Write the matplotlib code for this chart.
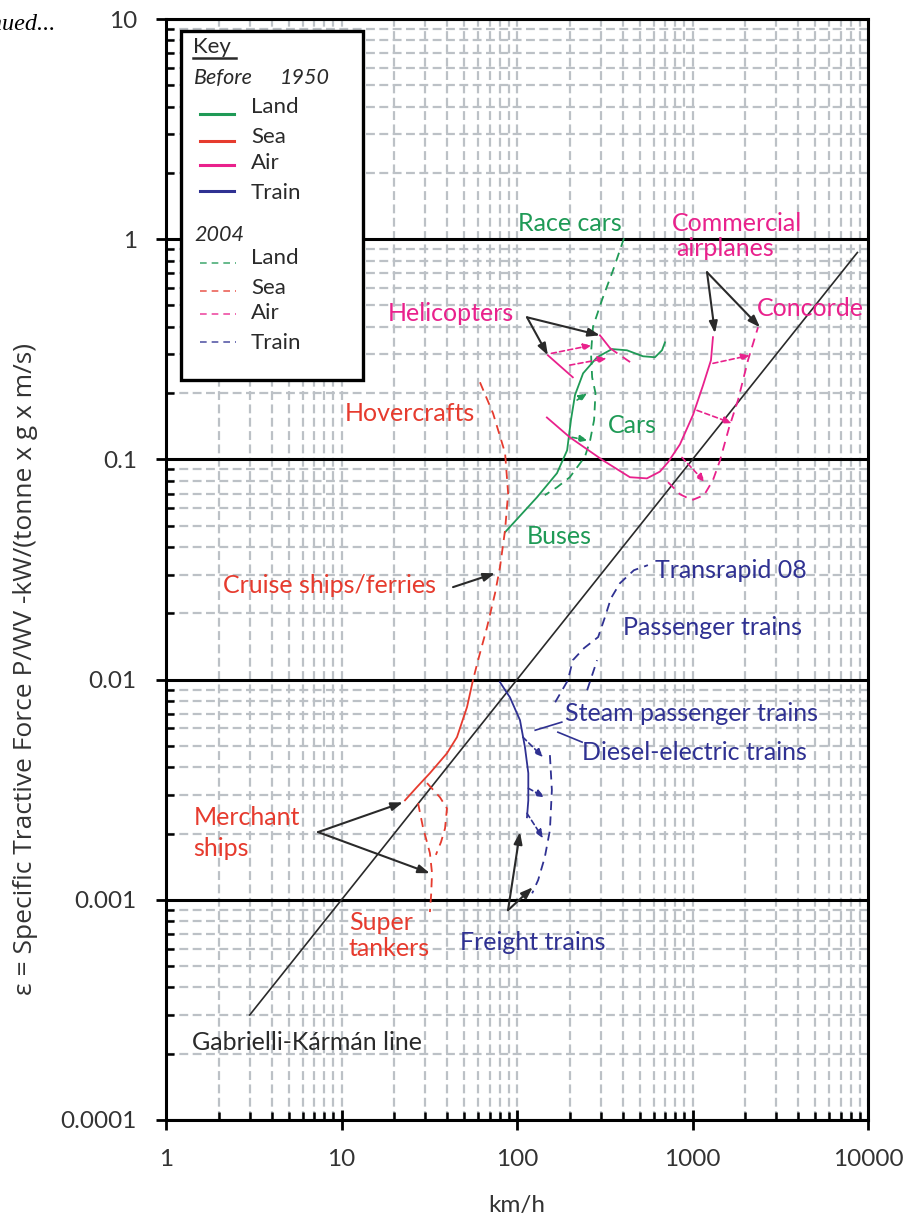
import matplotlib
matplotlib.use('Agg')
import matplotlib.pyplot as plt
from matplotlib.patches import Rectangle
from matplotlib.lines import Line2D
from matplotlib.ticker import FuncFormatter, LogLocator

plt.rcParams['font.family'] = ['Lato', 'DejaVu Sans']

GREEN = '#1f9a56'
RED = '#e63b2e'
MAGENTA = '#e9218c'
NAVY = '#2f3192'
GRID = '#bcc1c6'
INK = '#2a2a2a'

# Gabrielli-Karman line (eps = 1e-4 * V)
gk_speed = [3, 8700]
gk_eps = [0.0003, 0.87]

# land
land_1950_speed = [85.5, 130, 169, 193, 203, 214, 238, 286, 348, 423, 522, 611, 670, 697]
land_1950_eps = [0.0467, 0.0673, 0.0866, 0.110, 0.151, 0.196, 0.246, 0.291, 0.317, 0.313, 0.294, 0.291, 0.313, 0.340]
land_2004_speed = [407, 352, 305, 271, 264, 268, 280, 275, 261, 244, 200, 169, 144]
land_2004_eps = [1.01, 0.72, 0.53, 0.40, 0.303, 0.236, 0.20, 0.151, 0.122, 0.103, 0.083, 0.0747, 0.0688]

# sea
sea_1950_speed = [56.1, 51.9, 45.5, 39.9, 31.9, 26.9, 23.0]
sea_1950_eps = [0.00993, 0.0075, 0.00548, 0.00463, 0.00376, 0.00325, 0.00283]
cruise_2004_speed = [61.5, 73, 85.5, 89, 85.5, 80, 75, 67.5, 60, 56.1]
cruise_2004_eps = [0.224, 0.162, 0.107, 0.0703, 0.0477, 0.0324, 0.0247, 0.0173, 0.01225, 0.00993]
merchant_2004_speed = [30.7, 36.4, 39.9, 38.9, 36.9, 34.5]
merchant_2004_eps = [0.00339, 0.00292, 0.0026, 0.00211, 0.00183, 0.0016]
tanker_2004_speed = [27.3, 29.1, 31.9, 32.8, 32.4, 31.9]
tanker_2004_eps = [0.00275, 0.00214, 0.00163, 0.00132, 0.00105, 0.00088]

# air
heli_1950_a_speed = [150, 208]
heli_1950_a_eps = [0.297, 0.236]
heli_1950_b_speed = [297, 339]
heli_1950_b_eps = [0.366, 0.32]
heli_2004_speed = [339, 371, 452]
heli_2004_eps = [0.32, 0.304, 0.273]
air_1950_speed = [148, 200, 309, 440, 550, 652, 725, 848, 1006, 1148, 1274, 1308]
air_1950_eps = [0.155, 0.126, 0.099, 0.083, 0.082, 0.088, 0.097, 0.117, 0.159, 0.217, 0.282, 0.359]
air_2004_speed = [725, 848, 993, 1164, 1308, 1435, 1614, 1817, 2071, 2362]
air_2004_eps = [0.0788, 0.0695, 0.0653, 0.0688, 0.0805, 0.099, 0.139, 0.186, 0.282, 0.398]

# train
train_1950_speed = [80, 91.2, 104, 111, 116, 116, 114]
train_1950_eps = [0.00973, 0.0083, 0.00654, 0.00493, 0.00376, 0.00283, 0.00237]
freight_2004_speed = [154, 158, 154, 144, 132, 122]
freight_2004_eps = [0.00454, 0.00315, 0.00207, 0.00156, 0.00123, 0.00107]
passenger_2004_speed = [165, 195, 208, 241, 290, 317, 343, 386, 464, 557]
passenger_2004_eps = [0.00789, 0.00993, 0.01225, 0.0139, 0.0156, 0.0192, 0.0234, 0.0274, 0.0314, 0.0331]
passenger_2004b_speed = [251, 286]
passenger_2004b_eps = [0.00895, 0.01225]

# improvement arrows 1950 -> 2004: (from, to, colour)
shift_arrows = [
    ((220, 0.186), (251, 0.200), GREEN),
    ((206, 0.126), (254, 0.122), GREEN),
    ((157, 0.303), (267, 0.330), MAGENTA),
    ((200, 0.268), (325, 0.288), MAGENTA),
    ((1308, 0.273), (2127, 0.297), MAGENTA),
    ((1061, 0.167), (1679, 0.146), MAGENTA),
    ((871, 0.102), (1178, 0.0788), MAGENTA),
    ((108, 0.00548), (141, 0.00444), NAVY),
    ((116, 0.00321), (144, 0.00292), NAVY),
    ((114, 0.00247), (141, 0.0019), NAVY),
]

# pointer arrows from labels: (base, head)
pointers = [
    ((114, 0.442), (297, 0.366)),
    ((114, 0.442), (150, 0.297)),
    ((1210, 0.708), (1343, 0.374)),
    ((1210, 0.708), (2425, 0.398)),
    ((43.2, 0.0263), (75, 0.0304)),
    ((7.35, 0.00203), (22.4, 0.00277)),
    ((7.35, 0.00203), (31.9, 0.00132)),
    ((88.9, 0.000897), (104, 0.00203)),
    ((88.9, 0.000897), (123, 0.00114)),
]

# labels: text, x, y, colour
labels = [
    ('Race cars', 200, 1.18, GREEN, 'center'),
    ('Commercial', 764, 1.18, MAGENTA, 'left'),
    ('airplanes', 805, 0.91, MAGENTA, 'left'),
    ('Concorde', 2332, 0.486, MAGENTA, 'left'),
    ('Helicopters', 18.4, 0.461, MAGENTA, 'left'),
    ('Hovercrafts', 10.5, 0.162, RED, 'left'),
    ('Cars', 330, 0.143, GREEN, 'left'),
    ('Buses', 114, 0.0448, GREEN, 'left'),
    ('Cruise ships/ferries', 2.11, 0.0268, RED, 'left'),
    ('Transrapid 08', 611, 0.0314, NAVY, 'left'),
    ('Passenger trains', 402, 0.0173, NAVY, 'left'),
    ('Steam passenger trains', 188, 0.00703, NAVY, 'left'),
    ('Diesel-electric trains', 235, 0.00468, NAVY, 'left'),
    ('Merchant', 1.43, 0.00237, RED, 'left'),
    ('ships', 1.43, 0.00171, RED, 'left'),
    ('Super', 11.0, 0.00079, RED, 'left'),
    ('tankers', 11.0, 0.000603, RED, 'left'),
    ('Freight trains', 47.3, 0.00064, NAVY, 'left'),
    ('Gabrielli-Kármán line', 1.41, 0.000225, INK, 'left'),
]

fig = plt.figure(figsize=(9.05, 12.19), dpi=100)
ax = fig.add_axes([166 / 905, 99 / 1219, 702 / 905, 1101 / 1219])
ax.set_xscale('log')
ax.set_yscale('log')
ax.set_xlim(1, 10000)
ax.set_ylim(0.0001, 10)

ax.xaxis.set_minor_locator(LogLocator(base=10, subs=range(2, 10)))
ax.yaxis.set_minor_locator(LogLocator(base=10, subs=range(2, 10)))
ax.xaxis.grid(True, which='both', color=GRID, ls=(0, (4, 2)), lw=1.6)
ax.yaxis.grid(True, which='minor', color=GRID, ls=(0, (4, 2)), lw=1.6)
ax.yaxis.grid(True, which='major', color='black', ls='-', lw=2.2)
ax.set_axisbelow(True)
for s in ax.spines.values():
    s.set_linewidth(2.2)

fmt = FuncFormatter(lambda v, p: '%g' % v)
ax.xaxis.set_major_formatter(fmt)
ax.yaxis.set_major_formatter(fmt)
ax.tick_params(which='major', direction='inout', length=14, width=2, labelsize=17.5, labelcolor='#333333')
ax.tick_params(which='minor', direction='in', length=6, width=1.8)
ax.tick_params(axis='x', which='major', pad=14)
ax.tick_params(axis='y', which='major', pad=14)
ax.tick_params(top=False, right=False, which='both')

ax.set_xlabel('km/h', fontsize=17.5, color='#333333', labelpad=18)
ax.set_ylabel('ε = Specific Tractive Force P/WV -kW/(tonne x g x m/s)', fontsize=19,
              color='#333333', family=['Open Sans', 'DejaVu Sans'])
ax.yaxis.set_label_coords(-0.182, 0.41)

solid = dict(lw=1.3)
dashed = dict(lw=1.3, ls=(0, (5, 3.5)))

ax.plot(gk_speed, gk_eps, color=INK, lw=1.2)

ax.plot(land_1950_speed, land_1950_eps, color=GREEN, **solid)
ax.plot(land_2004_speed, land_2004_eps, color=GREEN, **dashed)

ax.plot(sea_1950_speed, sea_1950_eps, color=RED, **solid)
ax.plot(cruise_2004_speed, cruise_2004_eps, color=RED, **dashed)
ax.plot(merchant_2004_speed, merchant_2004_eps, color=RED, **dashed)
ax.plot(tanker_2004_speed, tanker_2004_eps, color=RED, **dashed)

ax.plot(heli_1950_a_speed, heli_1950_a_eps, color=MAGENTA, **solid)
ax.plot(heli_1950_b_speed, heli_1950_b_eps, color=MAGENTA, **solid)
ax.plot(heli_2004_speed, heli_2004_eps, color=MAGENTA, **dashed)
ax.plot(air_1950_speed, air_1950_eps, color=MAGENTA, **solid)
ax.plot(air_2004_speed, air_2004_eps, color=MAGENTA, **dashed)

ax.plot(train_1950_speed, train_1950_eps, color=NAVY, **solid)
ax.plot(freight_2004_speed, freight_2004_eps, color=NAVY, **dashed)
ax.plot(passenger_2004_speed, passenger_2004_eps, color=NAVY, **dashed)
ax.plot(passenger_2004b_speed, passenger_2004b_eps, color=NAVY, **dashed)

for a, b, c in shift_arrows:
    ax.annotate('', xy=b, xytext=a,
                arrowprops=dict(arrowstyle='-|>,head_length=0.5,head_width=0.2', color=c, lw=1.2,
                                ls=(0, (3, 2)), shrinkA=0, shrinkB=0))

for a, b in pointers:
    ax.annotate('', xy=b, xytext=a,
                arrowprops=dict(arrowstyle='-|>,head_length=0.7,head_width=0.25', color=INK, lw=1.5,
                                shrinkA=0, shrinkB=0))

# plain leader lines for the steam / diesel labels
ax.plot([127, 180], [0.00589, 0.00641], color=NAVY, lw=1.2)
ax.plot([171, 235], [0.00577, 0.0052], color=NAVY, lw=1.2)

for t, x, y, c, ha in labels:
    ax.text(x, y, t, color=c, fontsize=18, ha=ha, va='center')

# key box, laid out in pixel positions of the figure
def af(px, py):
    return ((px - 166) / 702, (1120 - py) / 1101)

ax.add_patch(Rectangle(af(181, 380), 182 / 702, 349 / 1101, transform=ax.transAxes,
                       facecolor='white', edgecolor='black', lw=2.4, zorder=10, clip_on=False))
ax.text(*af(193, 47), 'Key', transform=ax.transAxes, fontsize=16, va='center', ha='left',
        color=INK, zorder=11)
ax.add_line(Line2D([af(193, 0)[0], af(236, 0)[0]], [af(0, 58)[1]] * 2, transform=ax.transAxes,
                   color=INK, lw=1.8, zorder=11))
ax.text(*af(194, 78), 'Before', transform=ax.transAxes, fontsize=15.5, style='italic',
        va='center', color=INK, zorder=11)
ax.text(*af(280, 78), '1950', transform=ax.transAxes, fontsize=15.5, style='italic',
        va='center', color=INK, zorder=11)
ax.text(*af(194, 235), '2004', transform=ax.transAxes, fontsize=15.5, style='italic',
        va='center', color=INK, zorder=11)

key_names = ['Land', 'Sea', 'Air', 'Train']
key_colors = [GREEN, RED, MAGENTA, NAVY]
old_rows = [(107, 114), (137, 141), (163, 165), (193, 191)]
new_rows = [(258, 263), (288, 291), (313, 314), (343, 342)]
for name, c, (ty, ly) in zip(key_names, key_colors, old_rows):
    ax.add_line(Line2D([af(200, 0)[0], af(234, 0)[0]], [af(0, ly)[1]] * 2, transform=ax.transAxes,
                       color=c, lw=2.2, zorder=11))
    ax.text(*af(251, ty), name, transform=ax.transAxes, fontsize=16, va='center', color=INK, zorder=11)
for name, c, (ty, ly) in zip(key_names, key_colors, new_rows):
    ax.add_line(Line2D([af(200, 0)[0], af(236, 0)[0]], [af(0, ly)[1]] * 2, transform=ax.transAxes,
                       color=c, lw=1.2, ls=(0, (4, 3)), alpha=0.8, zorder=11))
    ax.text(*af(251, ty), name, transform=ax.transAxes, fontsize=16, va='center', color=INK, zorder=11)

fig.text(56 / 905, 1 - 25 / 1219, 'Continued...', ha='right', va='center', fontsize=17.5,
         family=['Liberation Serif', 'DejaVu Serif'], style='italic', color='black')

fig.savefig('out.png', dpi=100)
